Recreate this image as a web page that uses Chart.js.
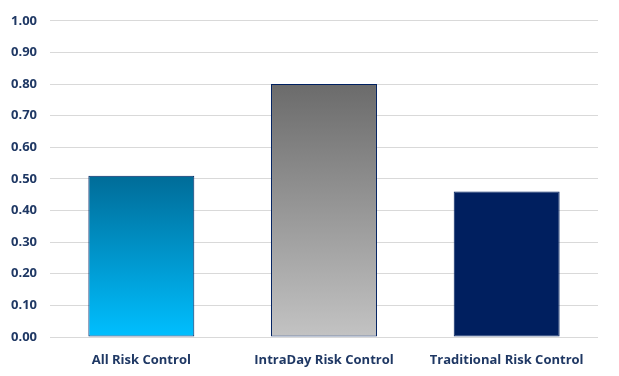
<!DOCTYPE html>
<html>
<head>
<meta charset="utf-8">
<script src="https://cdn.jsdelivr.net/npm/chart.js@4/dist/chart.umd.min.js"></script>
<style>
  html, body { margin: 0; padding: 0; background: #fff; }
  #wrap { width: 619px; height: 376px; }
</style>
</head>
<body>
<div id="wrap"><canvas id="riskChart"></canvas></div>
<script>
const categories = ['All Risk Control', 'IntraDay Risk Control', 'Traditional Risk Control'];
const values = [0.51, 0.80, 0.46];
const yTicks = [0, 0.1, 0.2, 0.3, 0.4, 0.5, 0.6, 0.7, 0.8, 0.9, 1.0];

const fills = [
    ['#006c98', '#00bfff'],
    ['#6b6b6b', '#c3c3c3'],
    ['#001f5f', '#001f5f']
];

const navy = '#1f3864';

function barFill(context) {
    const chart = context.chart;
    const pair = fills[context.dataIndex];
    if (!chart.chartArea || !chart.scales.y) return pair[1];
    const y = chart.scales.y;
    const top = y.getPixelForValue(values[context.dataIndex]);
    const bottom = y.getPixelForValue(0);
    const g = chart.ctx.createLinearGradient(0, top, 0, bottom);
    g.addColorStop(0, pair[0]);
    g.addColorStop(1, pair[1]);
    return g;
}

const ctx = document.getElementById('riskChart').getContext('2d');
new Chart(ctx, {
    type: 'bar',
    data: {
        labels: categories,
        datasets: [{
            data: values,
            backgroundColor: barFill,
            borderColor: '#002060',
            borderWidth: 1,
            borderSkipped: false,
            categoryPercentage: 0.58,
            barPercentage: 1
        }]
    },
    options: {
        responsive: true,
        maintainAspectRatio: false,
        animation: false,
        layout: {
            padding: { top: 10, right: 21, left: 0, bottom: 0 }
        },
        plugins: {
            legend: { display: false },
            tooltip: { enabled: false }
        },
        scales: {
            x: {
                grid: { display: false },
                border: { display: false },
                ticks: {
                    color: navy,
                    padding: 7,
                    font: { family: 'Open Sans', size: 13, weight: 'bold' }
                },
                afterFit: scale => { scale.height = 39; }
            },
            y: {
                min: 0,
                max: 1,
                afterBuildTicks: scale => {
                    scale.ticks = yTicks.map(v => ({ value: v }));
                },
                grid: { color: '#d9d9d9', drawTicks: false },
                border: { display: false },
                ticks: {
                    color: navy,
                    padding: 13,
                    font: { family: 'Open Sans', size: 13, weight: 'bold' },
                    callback: v => Number(v).toFixed(2)
                },
                afterFit: scale => { scale.width = 50; }
            }
        }
    }
});
</script>
</body>
</html>
